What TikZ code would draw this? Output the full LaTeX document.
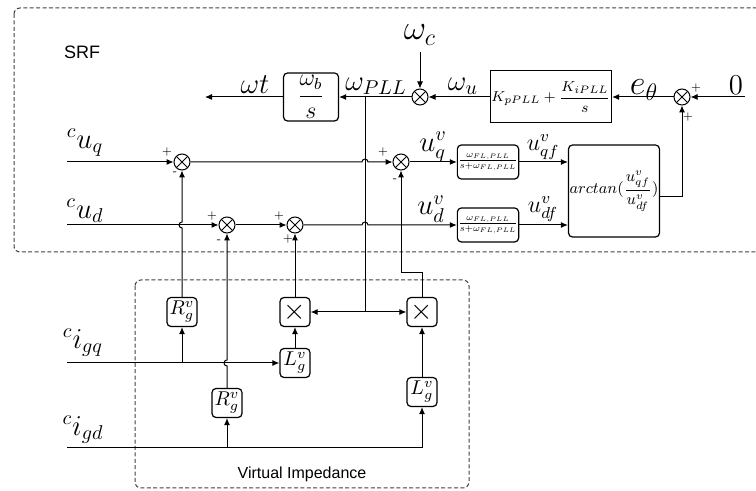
\documentclass[tikz,border=0pt]{standalone}
\usepackage{graphicx}
\usepackage{fontspec}
\setsansfont{Liberation Sans}
\usetikzlibrary{arrows.meta}

\begin{document}
\begin{tikzpicture}[x=0.5pt,y=-0.5pt,line width=0.5pt,
        >={Latex[length=3.5pt,width=3pt]},
        sumnode/.style={circle,draw,minimum size=8pt,inner sep=0pt,
            path picture={\draw[line width=0.4pt]
                (path picture bounding box.north west) -- (path picture bounding box.south east)
                (path picture bounding box.north east) -- (path picture bounding box.south west);}},
        blk/.style={draw,rounded corners=2pt,line width=0.6pt,inner sep=0.5pt},
        gain/.style={blk,minimum width=15pt,minimum height=14.5pt},
        filt/.style={blk,minimum width=30.5pt,minimum height=17pt},
        sgn/.style={font=\tiny,inner sep=0pt},
        frame/.style={draw=black!75,dash pattern=on 2pt off 1.2pt,rounded corners=3pt}]
            \useasboundingbox (0,0) rectangle (756,491);
            \draw[frame] (14,8) rectangle (766,252);
            \draw[frame] (135,280) rectangle (469,488);
            \node[font=\sffamily\small] (srf) at (82,52) {SRF};
            \node[font=\sffamily\footnotesize] (vi) at (302,474) {Virtual Impedance};

            \node[blk,minimum width=27.5pt,minimum height=24pt,font=\large] (wbs) at (311,97) {$\displaystyle\frac{\omega_b}{s}$};
            \node[sumnode] (sc) at (420,97) {};
            \node[draw,line width=0.5pt,minimum width=53.5pt,minimum height=26pt,inner sep=0.5pt,font=\footnotesize] (kpll) at (551,97) {\scalebox{0.9}{$K_{pPLL}+\displaystyle\frac{K_{iPLL}}{s}$}};
            \node[sumnode] (se) at (682,97) {};
            \node[font=\LARGE] (wc) at (420,35) {$\omega_c$};
            \node[font=\Large] (zero) at (736,85) {$0$};
            \coordinate (zin) at (745,97);
            \coordinate (wout) at (205,97);
            \coordinate (tap) at (365,97);
            \coordinate (mj) at (365,312);

            \node[font=\Large] (lwt) at (255,85) {$\omega t$};
            \node[font=\Large] (lwpll) at (376,86) {$\omega_{PLL}$};
            \node[font=\Large] (lwu) at (463,86) {$\omega_u$};
            \node[font=\LARGE] (leth) at (644,90) {$e_\theta$};
            \node[sgn] (pe1) at (696,88) {+};
            \node[sgn] (pe2) at (688,117) {+};

            \node[font=\Large] (lcuq) at (85,143) {${}^{c}u_{q}$};
            \node[font=\Large] (lcud) at (85,211) {${}^{c}u_{d}$};
            \node[font=\Large] (lciq) at (83,343) {${}^{c}i_{gq}$};
            \node[font=\Large] (lcid) at (83,430) {${}^{c}i_{gd}$};
            \coordinate (uqin) at (67,162);
            \coordinate (udin) at (67,225);
            \coordinate (iqin) at (67,363);
            \coordinate (idin) at (67,448);

            \node[sumnode] (sq1) at (182,162) {};
            \node[sumnode] (sd1) at (227,225) {};
            \node[sumnode] (sd2) at (295,225) {};
            \node[sumnode] (sq2) at (401,162) {};
            \node[sgn] (pq1) at (167,152) {+};
            \node[sgn] (nq1) at (175,173) {-};
            \node[sgn] (pd1) at (212,216) {+};
            \node[sgn] (nd1) at (219,241) {-};
            \node[sgn] (pd2) at (279,216) {+};
            \node[sgn] (pd3) at (288,239) {+};
            \node[sgn] (pq2) at (383,152) {+};
            \node[sgn] (nq2) at (395,180) {-};

            \node[filt] (flq) at (488,162) {\scalebox{0.66}{$\frac{\omega_{FL,PLL}}{s+\omega_{FL,PLL}}$}};
            \node[filt] (fld) at (488,225) {\scalebox{0.66}{$\frac{\omega_{FL,PLL}}{s+\omega_{FL,PLL}}$}};
            \node[blk,minimum width=45.5pt,minimum height=46pt,inner sep=0.5pt,font=\small] (atan) at (614,191) {\scalebox{0.88}{$\displaystyle arctan(\frac{u^v_{qf}}{u^v_{df}})$}};
            \node[font=\Large] (luq) at (433,147) {$u_q^v$};
            \node[font=\large] (luqf) at (543,147) {$u_{qf}^v$};
            \node[font=\Large] (lud) at (431,209) {$u_d^v$};
            \node[font=\large] (ludf) at (543,209) {$u_{df}^v$};

            \node[gain] (rq) at (182,312) {$R_g^v$};
            \node[gain] (rd) at (227,403) {$R_g^v$};
            \node[gain,font=\Large] (mq) at (295,312) {$\times$};
            \node[gain] (lq) at (295,363) {$L_g^v$};
            \node[gain,font=\Large] (md) at (422,312) {$\times$};
            \node[gain] (ld) at (422,392) {$L_g^v$};

            \draw[->] (wbs) -- (wout);
            \draw[->] (sc) -- (wbs);
            \draw[->] (kpll) -- (sc);
            \draw[->] (se) -- (kpll);
            \draw[->] (zin) -- (se);
            \draw[->] (wc) -- (sc);
            \draw[->] (atan.-7) -| (se);
            \draw (tap) -- (mj);
            \draw[->] (mj) -- (mq);
            \draw[->] (mj) -- (md);

            \draw[->] (uqin) -- (sq1);
            \draw[->] (sq1) -- (362,162) arc[start angle=180,end angle=360,radius=3] -- (sq2);
            \draw[->] (udin) -- (sd1);
            \draw[->] (sd1) -- (sd2);
            \draw[->] (sd2) -- (362,225) arc[start angle=180,end angle=360,radius=3] -- (fld);
            \draw[->] (sq2) -- (flq);
            \draw[->] (flq) -- (flq.east -| atan.west);
            \draw[->] (fld) -- (fld.east -| atan.west);

            \draw[->] (iqin) -- (lq);
            \draw[->] (rq |- iqin) -- (rq);
            \draw[->] (rq) -- (182,228) arc[start angle=90,end angle=270,radius=3] -- (sq1);
            \draw[->] (rd |- idin) -- (rd);
            \draw[->] (rd) -- (227,366) arc[start angle=90,end angle=270,radius=3] -- (sd1);
            \draw[->] (lq) -- (mq);
            \draw[->] (mq) -- (sd2);
            \draw[->] (idin) -| (ld);
            \draw[->] (ld) -- (md);
            \draw[->] (md) |- (401,273) -- (sq2);
        \end{tikzpicture}
\end{document}
